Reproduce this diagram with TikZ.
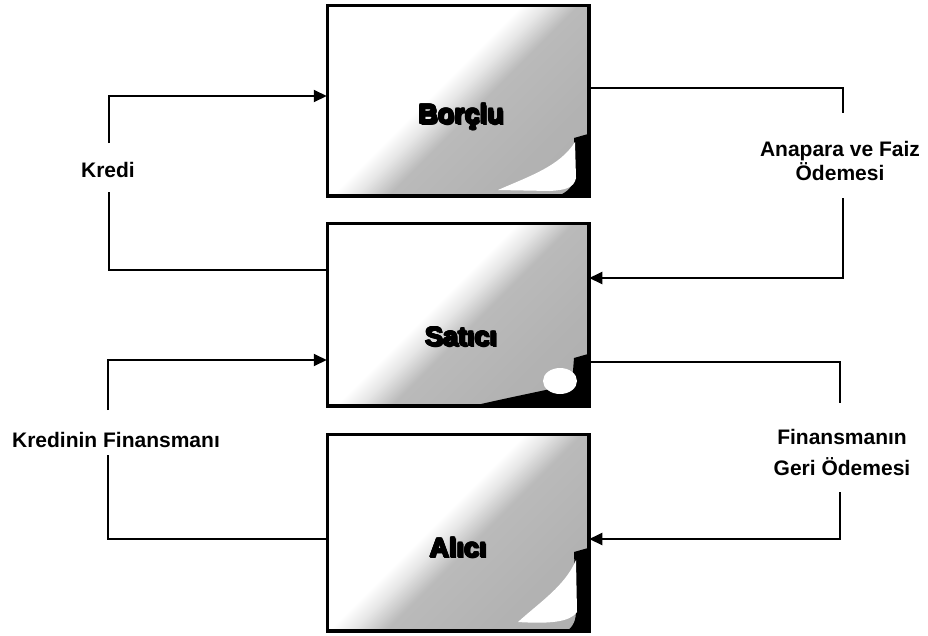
\documentclass[tikz,border=0pt]{standalone}
\usepackage{fontspec}
\setmainfont{Liberation Sans}
\usetikzlibrary{arrows.meta}

% white lettering with a thin black rim and a small drop shadow
\newsavebox{\halobox}
\newcommand{\rimcopy}[2]{\rlap{\kern#1\raise#2\hbox{\textcolor{black}{\usebox{\halobox}}}}}
\newcommand{\haloword}[1]{%
  \sbox{\halobox}{#1}%
  \rimcopy{1.6pt}{-1.6pt}%
  \rimcopy{0.9pt}{0pt}\rimcopy{-0.9pt}{0pt}%
  \rimcopy{0pt}{0.9pt}\rimcopy{0pt}{-0.9pt}%
  \rimcopy{0.65pt}{0.65pt}\rimcopy{-0.65pt}{0.65pt}%
  \rimcopy{0.65pt}{-0.65pt}\rimcopy{-0.65pt}{-0.65pt}%
  \textcolor{white}{\usebox{\halobox}}}

% diagonal fill of the three panels: white upper-left, grey lower-right
\pgfdeclarehorizontalshading{panelgrad}{100bp}{%
  color(0bp)=(white); color(45bp)=(white); color(49bp)=(black!10);
  color(54bp)=(black!27); color(70bp)=(black!30); color(100bp)=(black!33)}

\begin{document}
\begin{tikzpicture}[x=1pt,y=-1pt,
  panel/.style={draw=black, line width=2.5pt, shading=panelgrad,
    shading angle=-45, minimum width=260pt, inner sep=0pt},
  paneltext/.style={font=\bfseries\fontsize{27}{30}\selectfont, inner sep=0pt},
  flowtext/.style={font=\bfseries\fontsize{21}{24}\selectfont, align=center,
    inner sep=0pt},
  link/.style={line width=2pt, line join=miter},
  arr/.style={link, -{Triangle[length=13pt,width=12pt]}}]

\useasboundingbox (0,0) rectangle (928,635);

% ---- panels ----
\node[panel, minimum height=189pt] (borc) at (458,100.5) {};
\node[panel, minimum height=181pt] (sat)  at (458,314.5) {};
\node[panel, minimum height=195pt] (ali)  at (458,532.5) {};

% dark corner with a light lobe in each panel
\begin{scope}
  \clip (borc.south west) rectangle (borc.north east);
  \fill[black] (574,138) -- (588,134) -- (588,197) -- (556,197)
    .. controls (568,192) and (574,186) .. (574,176) -- cycle;
  \fill[white] (498,190) .. controls (530,176) and (560,166) .. (575,142)
    -- (576,178) .. controls (574,188) and (565,190) .. (550,191) -- cycle;
\end{scope}
\begin{scope}
  \clip (sat.south west) rectangle (sat.north east);
  \fill[black] (468,407) .. controls (515,396) and (548,390) .. (572,384)
    -- (574,358) -- (588,354) -- (588,407) -- cycle;
  \fill[white] (560,381) ellipse [x radius=17, y radius=13];
\end{scope}
\begin{scope}
  \clip (ali.south west) rectangle (ali.north east);
  \fill[black] (574,552) -- (588,548) -- (588,632) -- (566,632)
    .. controls (574,626) and (576,620) .. (576,610) -- cycle;
  \fill[white] (518,622) .. controls (540,602) and (565,586) .. (576,560)
    -- (577,612) .. controls (570,622) and (550,624) .. (518,622) -- cycle;
\end{scope}

% redraw the panel rims over the corner patches
\draw[line width=2.5pt] (borc.south west) rectangle (borc.north east);
\draw[line width=2.5pt] (sat.south west) rectangle (sat.north east);
\draw[line width=2.5pt] (ali.south west) rectangle (ali.north east);

\node[paneltext] (borc-t) at (461,117) {\haloword{Borçlu}};
\node[paneltext] (sat-t)  at (461,337) {\haloword{Satıcı}};
\node[paneltext] (ali-t)  at (458,548) {\haloword{Alıcı}};

% ---- flow labels ----
\node[flowtext] (kredi) at (108,170) {Kredi};
\node[flowtext] (anapara) at (840,161) {Anapara ve Faiz\\Ödemesi};
\node[flowtext] (kfin) at (116,440) {Kredinin Finansmanı};
\node[flowtext] (fgeri) at (842,452) {Finansmanın\\[7pt]Geri Ödemesi};

% gap ends of the vertical runs beside the labels
\coordinate (k-top)  at (109,143);
\coordinate (k-bot)  at (109,192);
\coordinate (ap-top) at (843,113);
\coordinate (ap-bot) at (843,198);
\coordinate (kf-top) at (108,410);
\coordinate (kf-bot) at (108,455);
\coordinate (fg-top) at (840,403);
\coordinate (fg-bot) at (840,492);

% ---- connectors ----
\draw[link] ([yshift=44.5pt]sat.west) -| (k-bot);
\draw[arr]  (k-top) |- ([yshift=4.5pt]borc.west);

\draw[link] ([yshift=12.5pt]borc.east) -| (ap-top);
\draw[arr]  (ap-bot) |- ([yshift=36.5pt]sat.east);

\draw[link] ([yshift=-6.5pt]ali.west) -| (kf-bot);
\draw[arr]  (kf-top) |- ([yshift=-45.5pt]sat.west);

\draw[link] ([yshift=-47.5pt]sat.east) -| (fg-top);
\draw[arr]  (fg-bot) |- ([yshift=-6.5pt]ali.east);
\end{tikzpicture}
\end{document}
